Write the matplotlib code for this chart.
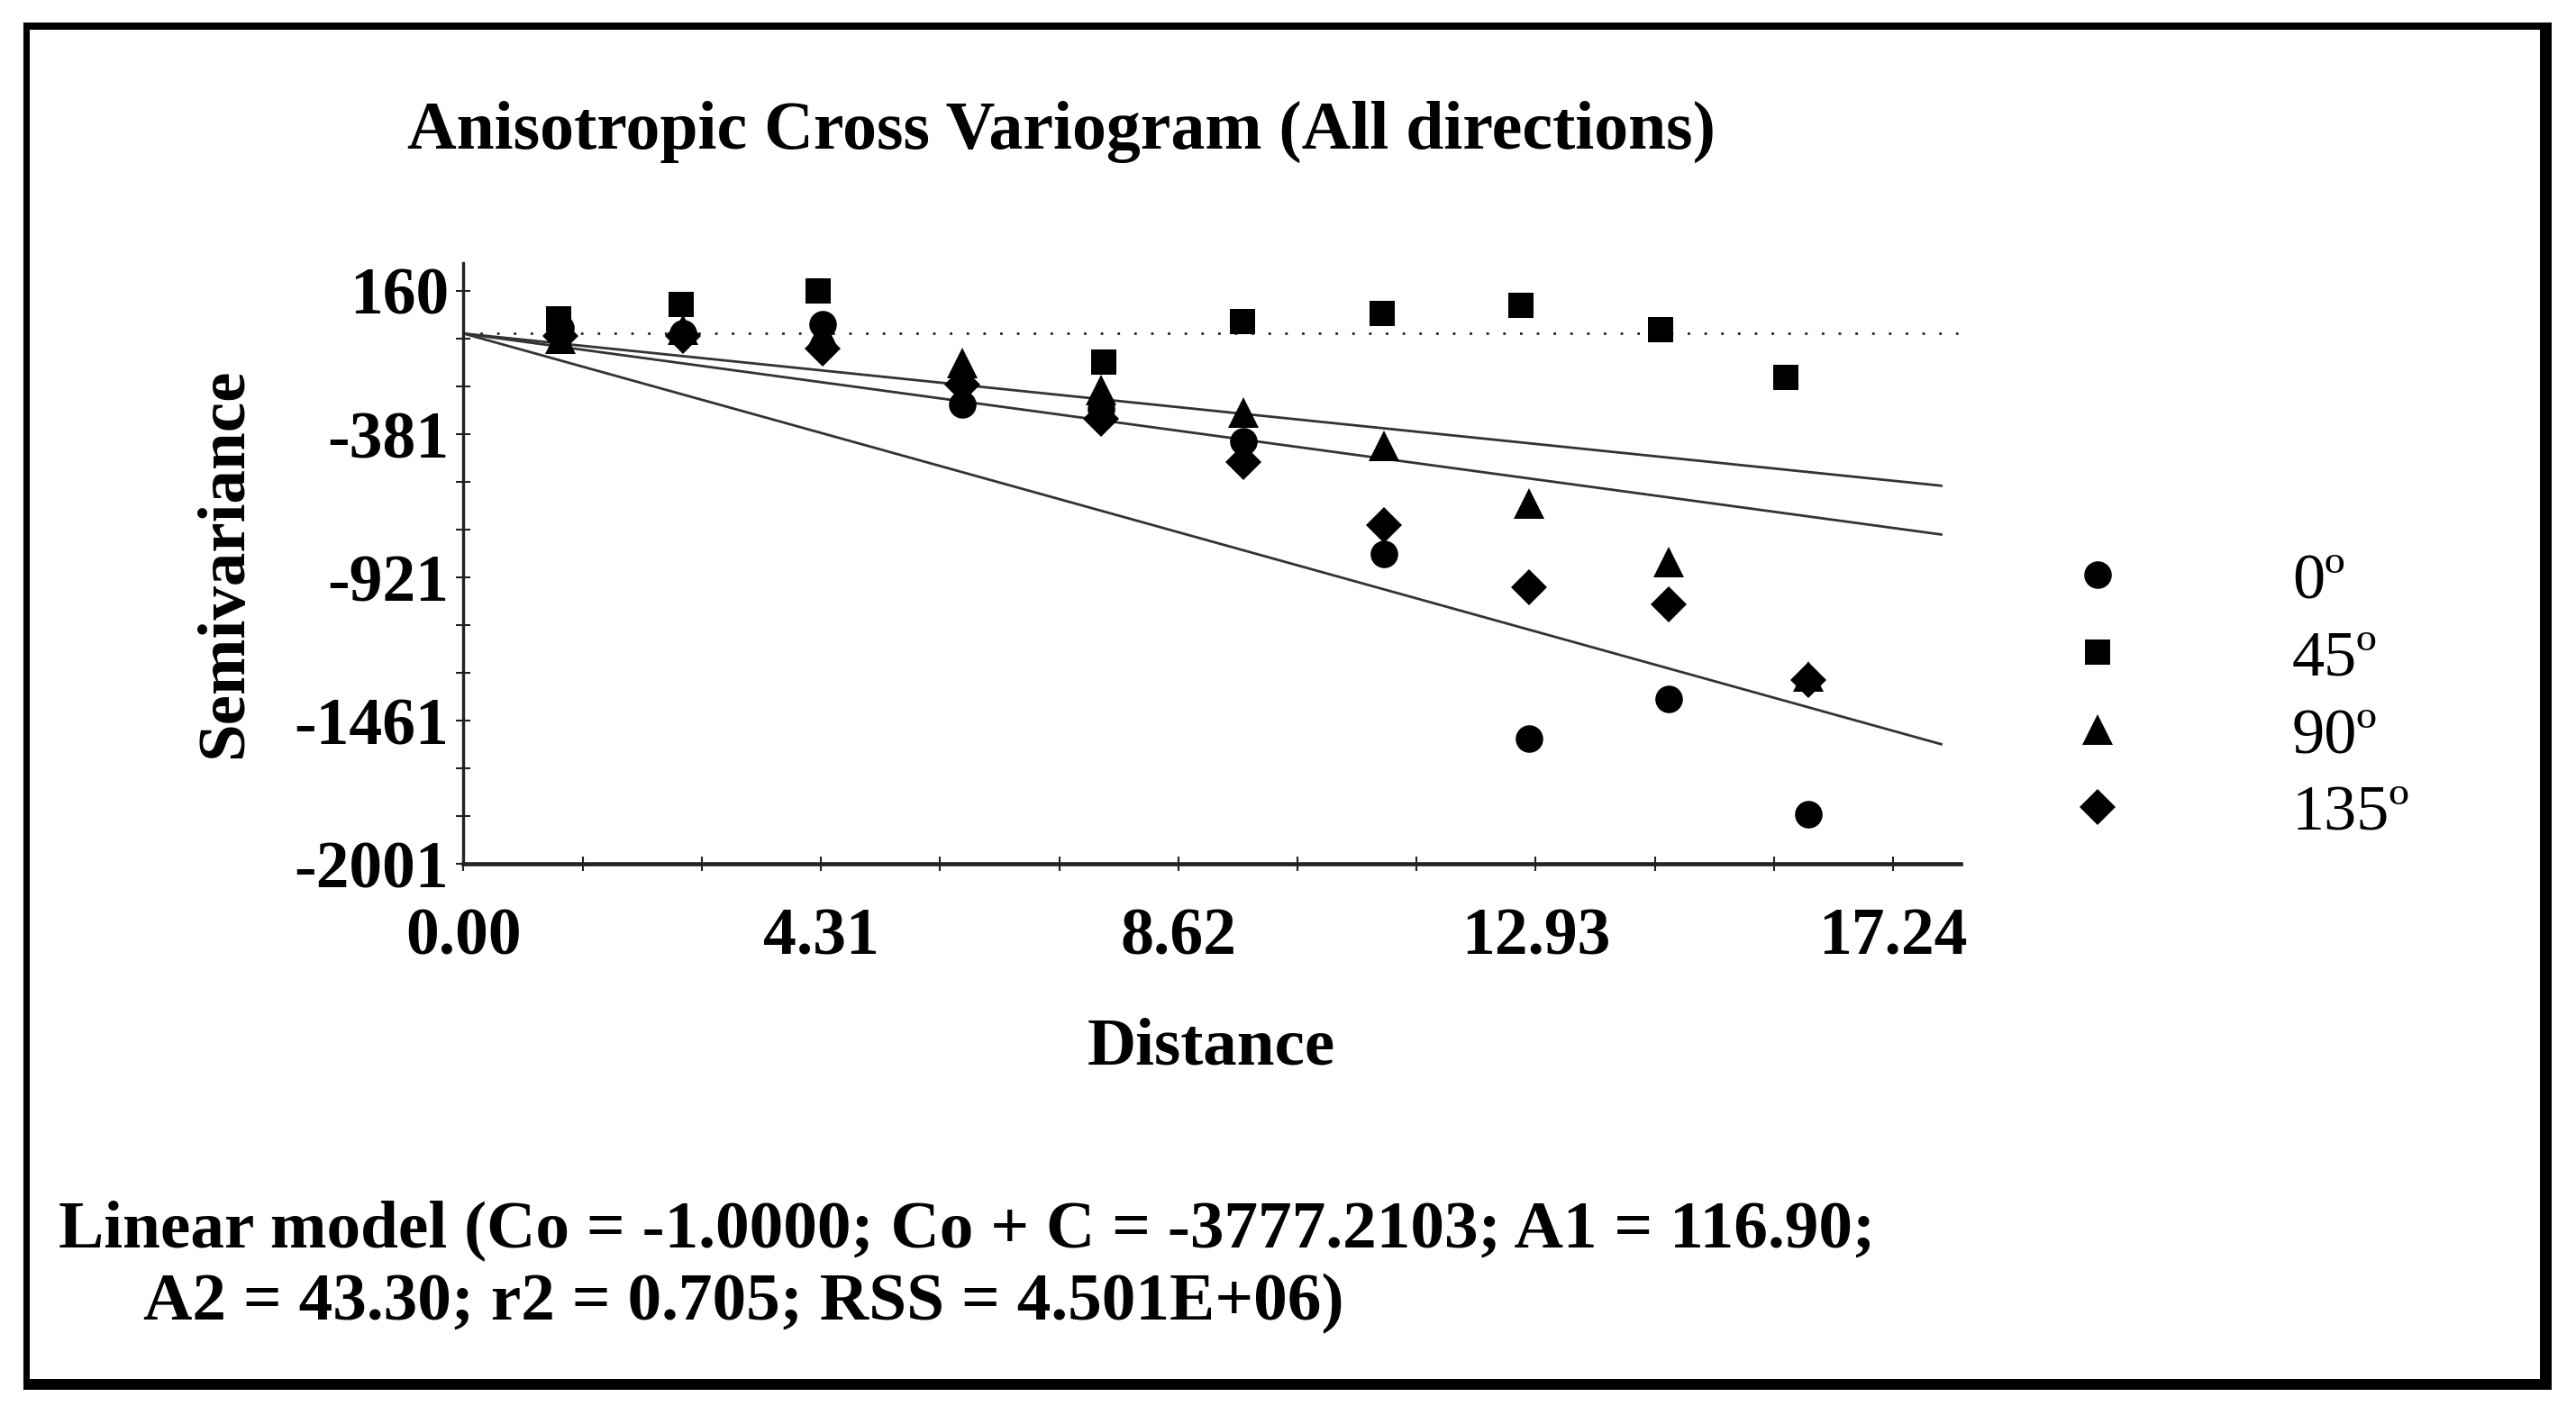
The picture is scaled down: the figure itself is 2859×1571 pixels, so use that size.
import numpy as np
import matplotlib
matplotlib.use('Agg')
import matplotlib.pyplot as plt
from matplotlib.patches import Rectangle

plt.rcParams['font.family'] = ['Liberation Serif', 'DejaVu Serif']

# Semivariance by lag
lags = [1.17, 2.65, 4.33, 6.01, 7.69, 9.40, 11.10, 12.85, 14.53, 16.22]
lags_45 = [1.15, 2.63, 4.28, 7.72, 9.39, 11.08, 12.75, 14.44, 15.95]
semi_0 = [20, 0, 34, -270, -285, -407, -832, -1528, -1378, -1813]
semi_45 = [55, 109, 160, -108, 45, 75, 106, 14, -166]
semi_90 = [-20, 15, 5, -112, -214, -298, -424, -641, -862, -1295]
semi_135 = [-10, -10, -57, -195, -322, -485, -723, -957, -1022, -1307]

# Linear model lines (start / end)
model_x = [0.0, 17.82]
model_start = -1
model_ends = [-575, -759, -1550]

x_ticks = [0.00, 4.31, 8.62, 12.93, 17.24]
y_ticks = [160, -381, -921, -1461, -2001]
labels = ['0º', '45º', '90º', '135º']

W, H = 2859, 1571
fig = plt.figure(figsize=(W / 100, H / 100), dpi=100)
ax = fig.add_axes([514.4 / W, 1 - 959 / H, (2175.6 - 514.4) / W, (959 - 292) / H])

# model lines + zero line
for y_end in model_ends:
    ax.plot(model_x, [model_start, y_end], color='#333333', lw=2.0, zorder=2)
ax.axhline(0, color='#222222', lw=2.0, linestyle=(0, (1, 5.7)), zorder=1)

h0, = ax.plot(lags, semi_0, 'o', color='black', ms=22, mew=0, zorder=3)
h45, = ax.plot(lags_45, semi_45, 's', color='black', ms=20, mew=0, zorder=3)
h90, = ax.plot(lags, semi_90, '^', color='black', ms=25, mew=0, zorder=3)
h135, = ax.plot(lags, semi_135, 'D', color='black', ms=20, mew=0, zorder=3)

ax.set_xlim(0, 18.05)
ax.set_ylim(-2001, 265)

for s in ['top', 'right']:
    ax.spines[s].set_visible(False)
ax.spines['left'].set_linewidth(2.4)
ax.spines['bottom'].set_linewidth(3.3)
ax.spines['left'].set_color('#222222')
ax.spines['bottom'].set_color('#222222')

ax.set_xticks(x_ticks)
ax.set_xticklabels(['%.2f' % v for v in x_ticks])
ax.set_xticks([a + (b - a) * k / 3 for a, b in zip(x_ticks[:-1], x_ticks[1:]) for k in (1, 2)], minor=True)
ax.set_yticks(y_ticks)
ax.set_yticklabels([str(v) for v in y_ticks])
ax.set_yticks([a + (b - a) * k / 3 for a, b in zip(y_ticks[:-1], y_ticks[1:]) for k in (1, 2)], minor=True)

ax.tick_params(axis='both', which='both', direction='inout', length=11.5, width=1.5, color='#222222')
ax.tick_params(axis='x', which='major', labelsize=53, pad=29)
ax.tick_params(axis='y', which='major', labelsize=53, pad=6)
for t in ax.get_xticklabels() + ax.get_yticklabels():
    t.set_fontweight('bold')

# texts
fig.text(452 / W, 1 - 165 / H, 'Anisotropic Cross Variogram (All directions)',
         fontsize=54.5, fontweight='bold', va='baseline', ha='left')
fig.text(1344 / W, 1 - 1181 / H, 'Distance', fontsize=54, fontweight='bold',
         va='baseline', ha='center')
fig.text(250 / W, 1 - 625 / H, 'Semivariance', fontsize=54, fontweight='bold',
         rotation=90, va='center', ha='center')
fig.text(65 / W, 1 - 1384 / H,
         'Linear model (Co = -1.0000; Co + C = -3777.2103; A1 = 116.90;',
         fontsize=54.2, fontweight='bold', va='baseline', ha='left')
fig.text(159 / W, 1 - 1465 / H,
         'A2 = 43.30; r2 = 0.705; RSS = 4.501E+06)',
         fontsize=54.2, fontweight='bold', va='baseline', ha='left')

fig.legend([h0, h45, h90, h135], labels, loc='upper left',
           bbox_to_anchor=(2292 / W, 1 - 613 / H), frameon=False,
           fontsize=52, handlelength=1.0, handletextpad=2.49,
           labelspacing=0.28, borderpad=0, borderaxespad=0, numpoints=1)

# outer frame
for x0, y0, x1, y1 in [(26, 25, 2832, 33), (26, 1531, 2832, 1543),
                       (26, 25, 33, 1543), (2819, 25, 2832, 1543)]:
    fig.add_artist(Rectangle((x0 / W, 1 - y1 / H), (x1 - x0) / W, (y1 - y0) / H,
                             transform=fig.transFigure, color='black', lw=0))

fig.savefig('out.png', dpi=100, facecolor='white')
